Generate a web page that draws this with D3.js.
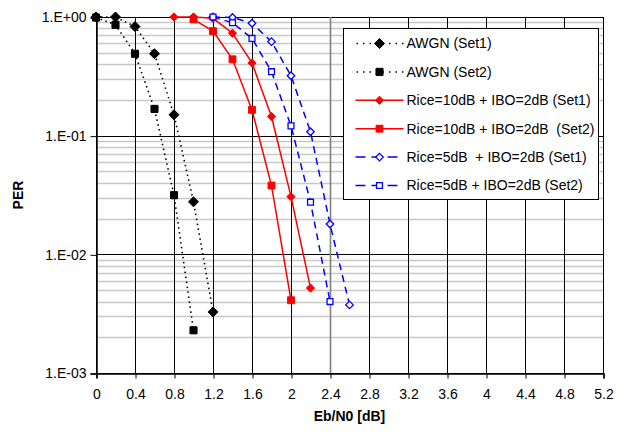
<!DOCTYPE html>
<html>
<head>
<meta charset="utf-8">
<script src="https://cdn.jsdelivr.net/npm/d3@7"></script>
<style>
  body { margin: 0; background: #fff; }
  text { font-family: "Liberation Sans", Arial, sans-serif; white-space: pre; }
</style>
</head>
<body>
<div id="wrapper"></div>
<script>
// data
const awgnSet1 = [[0, 1.0], [0.2, 1.0], [0.4, 0.83], [0.6, 0.49], [0.8, 0.15], [1.0, 0.0277], [1.2, 0.00327]];
const awgnSet2 = [[0, 0.99], [0.2, 0.86], [0.4, 0.49], [0.6, 0.168], [0.8, 0.0315], [1.0, 0.00229]];
const rice10Set1 = [[0.8, 1.0], [1.0, 1.0], [1.2, 0.975], [1.4, 0.73], [1.6, 0.41], [1.8, 0.145], [2.0, 0.0306], [2.2, 0.0052]];
const rice10Set2 = [[1.0, 0.955], [1.2, 0.76], [1.4, 0.44], [1.6, 0.165], [1.8, 0.038], [2.0, 0.0041]];
const rice5Set1 = [[1.2, 1.0], [1.4, 0.99], [1.6, 0.885], [1.8, 0.62], [2.0, 0.32], [2.2, 0.108], [2.4, 0.018], [2.6, 0.00375]];
const rice5Set2 = [[1.2, 1.0], [1.4, 0.895], [1.6, 0.66], [1.8, 0.346], [2.0, 0.121], [2.2, 0.0275], [2.4, 0.004]];

const xTicks = [0, 0.4, 0.8, 1.2, 1.6, 2, 2.4, 2.8, 3.2, 3.6, 4, 4.4, 4.8, 5.2];
const yTicks = [1, 0.1, 0.01, 0.001];
const yTickLabels = ["1.E+00", "1.E-01", "1.E-02", "1.E-03"];

const seriesNames = [
  "AWGN (Set1)",
  "AWGN (Set2)",
  "Rice=10dB + IBO=2dB (Set1)",
  "Rice=10dB + IBO=2dB  (Set2)",
  "Rice=5dB  + IBO=2dB (Set1)",
  "Rice=5dB + IBO=2dB (Set2)"
];

const series = [
  { name: seriesNames[0], values: awgnSet1, color: "#000", dash: "1.5,3.5", marker: "diamond", fill: true, size: 64 },
  { name: seriesNames[1], values: awgnSet2, color: "#000", dash: "1.5,3.5", marker: "square", fill: true, size: 64 },
  { name: seriesNames[2], values: rice10Set1, color: "#ff0000", dash: null, marker: "diamond", fill: true, size: 44 },
  { name: seriesNames[3], values: rice10Set2, color: "#ff0000", dash: null, marker: "square", fill: true, size: 60 },
  { name: seriesNames[4], values: rice5Set1, color: "#0000ff", dash: "7,5", marker: "diamond", fill: false, size: 36 },
  { name: seriesNames[5], values: rice5Set2, color: "#0000ff", dash: "7,5", marker: "square", fill: false, size: 44 }
];

const fontSize = "14px";

const dimensions = {
  width: 629,
  height: 432,
  marginTop: 17,
  marginRight: 26,
  marginBottom: 59,
  marginLeft: 96
};
dimensions.boundedWidth = dimensions.width - dimensions.marginLeft - dimensions.marginRight;
dimensions.boundedHeight = dimensions.height - dimensions.marginTop - dimensions.marginBottom;

const wrapper = d3.select("#wrapper")
  .append("svg")
    .attr("width", dimensions.width)
    .attr("height", dimensions.height);

const bounds = wrapper.append("g")
    .attr("transform", `translate(${dimensions.marginLeft},${dimensions.marginTop})`);

const xScale = d3.scaleLinear()
  .domain([0, 5.2])
  .range([0, dimensions.boundedWidth]);

const yScale = d3.scaleLog()
  .domain([0.001, 1])
  .range([dimensions.boundedHeight, 0]);

// minor horizontal grid
const minorTicks = [];
[0.001, 0.01, 0.1].forEach(dec => {
  for (let k = 2; k <= 9; k++) minorTicks.push(dec * k);
});
bounds.append("g")
  .selectAll("line")
  .data(minorTicks)
  .join("line")
    .attr("x1", 0)
    .attr("x2", dimensions.boundedWidth)
    .attr("y1", d => Math.round(yScale(d)) + 0.5)
    .attr("y2", d => Math.round(yScale(d)) + 0.5)
    .attr("stroke", "#c8c8c8")
    .attr("stroke-width", 1.3);

// major horizontal grid
bounds.append("g")
  .selectAll("line")
  .data(yTicks)
  .join("line")
    .attr("x1", 0)
    .attr("x2", dimensions.boundedWidth)
    .attr("y1", d => Math.round(yScale(d)) + 0.5)
    .attr("y2", d => Math.round(yScale(d)) + 0.5)
    .attr("stroke", "#000");

// vertical grid
bounds.append("g")
  .selectAll("line")
  .data(xTicks)
  .join("line")
    .attr("x1", d => Math.round(xScale(d)) + 0.5)
    .attr("x2", d => Math.round(xScale(d)) + 0.5)
    .attr("y1", 0)
    .attr("y2", dimensions.boundedHeight)
    .attr("stroke", d => d === 2.4 ? "#808080" : "#000")
    .attr("stroke-width", d => d === 2.4 ? 1.6 : 1);

// axes
const xAxisGenerator = d3.axisBottom(xScale)
  .tickValues(xTicks)
  .tickFormat(d => d3.format("")(+d.toFixed(1)))
  .tickSize(5)
  .tickPadding(11);

const xAxis = bounds.append("g")
  .attr("transform", `translate(0.5,${Math.round(dimensions.boundedHeight) + 0.5})`)
  .call(xAxisGenerator);

const yAxisGenerator = d3.axisLeft(yScale)
  .tickValues(yTicks)
  .tickFormat((d, i) => yTickLabels[i])
  .tickSize(6)
  .tickPadding(4);

const yAxis = bounds.append("g")
  .attr("transform", "translate(0.5,0.5)")
  .call(yAxisGenerator);

[xAxis, yAxis].forEach(ax => {
  ax.select(".domain").attr("stroke", "#000").attr("stroke-width", 1.5);
  ax.selectAll(".tick line").attr("stroke", "#000");
  ax.selectAll("text")
    .attr("fill", "#000")
    .style("font-size", fontSize)
    .style("font-family", "'Liberation Sans', Arial, sans-serif");
});

// axis titles
wrapper.append("text")
  .attr("x", dimensions.marginLeft + xScale(2.6))
  .attr("y", 421)
  .attr("text-anchor", "middle")
  .style("font-size", fontSize)
  .style("font-weight", "bold")
  .text("Eb/N0 [dB]");

wrapper.append("text")
  .attr("transform", `translate(23,${dimensions.marginTop + dimensions.boundedHeight / 2}) rotate(-90)`)
  .attr("text-anchor", "middle")
  .style("font-size", fontSize)
  .style("font-weight", "bold")
  .text("PER");

// data
const lineGenerator = d3.line()
  .x(d => xScale(d[0]))
  .y(d => yScale(d[1]));

const markerType = m => m === "diamond" ? d3.symbolDiamond2 : d3.symbolSquare2;

function drawMarker(g, s, x, y) {
  const sym = d3.symbol().type(markerType(s.marker)).size(s.size);
  g.append("path")
    .attr("transform", `translate(${x},${y})`)
    .attr("d", sym())
    .attr("fill", s.fill ? s.color : "#fff")
    .attr("stroke", s.color)
    .attr("stroke-width", s.fill ? 1 : 1.3);
}

series.forEach(s => {
  bounds.append("path")
    .datum(s.values)
    .attr("d", lineGenerator)
    .attr("fill", "none")
    .attr("stroke", s.color)
    .attr("stroke-width", s.dash && s.color === "#000" ? 1.6 : 1.5)
    .attr("stroke-dasharray", s.dash);
});

series.forEach(s => {
  const g = bounds.append("g");
  s.values.forEach(d => drawMarker(g, s, xScale(d[0]), yScale(d[1])));
});

// legend
const legend = wrapper.append("g")
  .attr("transform", "translate(343.5,28.5)");

legend.append("rect")
  .attr("width", 255)
  .attr("height", 171)
  .attr("fill", "#fff")
  .attr("stroke", "#000");

series.forEach((s, i) => {
  const row = legend.append("g")
    .attr("transform", `translate(0,${15 + i * 28.4})`);
  row.append("line")
    .attr("x1", 12)
    .attr("x2", 60)
    .attr("stroke", s.color)
    .attr("stroke-width", 1.5)
    .attr("stroke-dasharray", s.dash ? (s.color === "#000" ? "1.5,5" : "10,6") : null)
    .attr("stroke-dashoffset", s.color === "#000" ? -1 : 0);
  drawMarker(row, s, 36, 0);
  row.append("text")
    .attr("x", 63)
    .attr("y", 0)
    .attr("dy", "0.35em")
    .attr("xml:space", "preserve")
    .style("font-size", fontSize)
    .text(s.name);
});
</script>
</body>
</html>
